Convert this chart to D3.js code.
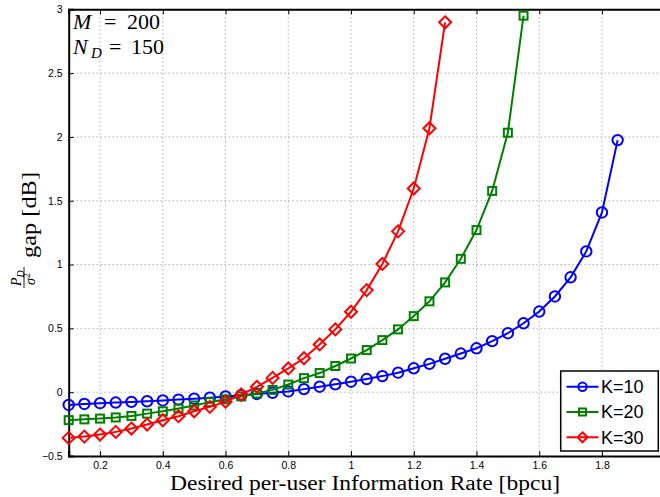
<!DOCTYPE html>
<html>
<head>
<meta charset="utf-8">
<script src="https://cdn.jsdelivr.net/npm/d3@7"></script>
<style>
  html, body { margin: 0; padding: 0; background: #fff; }
  svg { display: block; }
</style>
</head>
<body>
<svg id="chart" width="660" height="497"></svg>
<script>
// Desired per-user information rate (bpcu) for each curve
const rateK10 = d3.range(0, 36).map(i => +(0.1 + 0.05 * i).toFixed(2));
const rateK20 = d3.range(0, 30).map(i => +(0.1 + 0.05 * i).toFixed(2));
const rateK30 = d3.range(0, 25).map(i => +(0.1 + 0.05 * i).toFixed(2));

// P_D / sigma^2 gap in dB
const gapK10 = [-0.100, -0.092, -0.086, -0.081, -0.076, -0.071, -0.065, -0.058, -0.051, -0.043,
                -0.033, -0.024, -0.014, -0.005, 0.006, 0.024, 0.043, 0.062, 0.082, 0.103,
                0.126, 0.153, 0.187, 0.222, 0.262, 0.303, 0.344, 0.400, 0.462, 0.540,
                0.632, 0.750, 0.900, 1.103, 1.408, 1.975];
const gapK20 = [-0.219, -0.213, -0.207, -0.198, -0.186, -0.168, -0.150, -0.128, -0.104, -0.078,
                -0.056, -0.033, -0.010, 0.018, 0.060, 0.110, 0.150, 0.205, 0.264, 0.330,
                0.408, 0.492, 0.596, 0.712, 0.860, 1.045, 1.270, 1.577, 2.033, 2.950];
const gapK30 = [-0.358, -0.348, -0.332, -0.311, -0.285, -0.253, -0.220, -0.188, -0.150, -0.115,
                -0.074, -0.018, 0.042, 0.112, 0.186, 0.266, 0.374, 0.492, 0.630, 0.800,
                1.005, 1.260, 1.596, 2.068, 2.898];

const seriesNames = ["K=10", "K=20", "K=30"];
const xTicks = [0.2, 0.4, 0.6, 0.8, 1.0, 1.2, 1.4, 1.6, 1.8, 2.0];
const yTicks = [-0.5, 0, 0.5, 1, 1.5, 2, 2.5, 3];

const series = [
  { name: seriesNames[0], x: rateK10, y: gapK10, color: "#0000ff", marker: "circle" },
  { name: seriesNames[1], x: rateK20, y: gapK20, color: "#008000", marker: "square" },
  { name: seriesNames[2], x: rateK30, y: gapK30, color: "#ff0000", marker: "diamond" }
];

const svg = d3.select("#chart");
const plotL = 68.7, plotR = 664.7, plotT = 9.3, plotB = 456;

const x = d3.scaleLinear().domain([0.1, 2.0]).range([plotL, plotR]);
const y = d3.scaleLinear().domain([-0.5, 3]).range([plotB, plotT]);

// dotted grid
const grid = svg.append("g").attr("stroke", "#8a8a8a").attr("stroke-width", 1)
  .attr("stroke-dasharray", "1,3").attr("fill", "none");
xTicks.forEach(t => grid.append("line")
  .attr("x1", x(t)).attr("x2", x(t)).attr("y1", plotT).attr("y2", plotB));
yTicks.filter(t => t > -0.5 && t < 3).forEach(t => grid.append("line")
  .attr("x1", plotL).attr("x2", plotR).attr("y1", y(t)).attr("y2", y(t)));

// axes with inward ticks
const fmtY = d => (d === 0 ? "0" : d3.format("~g")(d).replace("-", "\u2212"));
const fmtX = d => (d === 1 ? "1" : d3.format(".1f")(d));

const xAxis = svg.append("g").attr("transform", `translate(0,${plotB})`)
  .call(d3.axisBottom(x).tickValues(xTicks).tickSize(-5).tickPadding(6).tickFormat(fmtX));
const yAxis = svg.append("g").attr("transform", `translate(${plotL},0)`)
  .call(d3.axisLeft(y).tickValues(yTicks).tickSize(-5).tickPadding(6).tickFormat(fmtY));
const xTop = svg.append("g").attr("transform", `translate(0,${plotT})`)
  .call(d3.axisTop(x).tickValues(xTicks).tickSize(-5).tickFormat(""));

[xAxis, yAxis, xTop].forEach(a => {
  a.select(".domain").attr("stroke", "#000").attr("stroke-width", 2);
  a.selectAll(".tick line").attr("stroke", "#000").attr("stroke-width", 1);
  a.selectAll(".tick text").attr("fill", "#000")
    .attr("font-family", "'Liberation Sans', Arial, sans-serif").attr("font-size", 10.5);
});
xAxis.selectAll(".tick text").filter(d => d >= 2).remove();

// markers
function drawMarker(g, type, cx, cy, s, color) {
  if (type === "circle") {
    g.append("circle").attr("cx", cx).attr("cy", cy).attr("r", s)
      .attr("fill", "none").attr("stroke", color).attr("stroke-width", 2);
  } else if (type === "square") {
    g.append("rect").attr("x", cx - s).attr("y", cy - s).attr("width", 2 * s).attr("height", 2 * s)
      .attr("fill", "none").attr("stroke", color).attr("stroke-width", 2);
  } else {
    g.append("path").attr("d", `M${cx},${cy - s}L${cx + s},${cy}L${cx},${cy + s}L${cx - s},${cy}Z`)
      .attr("fill", "none").attr("stroke", color).attr("stroke-width", 2);
  }
}
const markerSize = { circle: 5.2, square: 4, diamond: 6 };

const plot = svg.append("g");
const line = d3.line().x(d => x(d[0])).y(d => y(d[1]));
series.forEach(s => {
  const pts = s.x.map((v, i) => [v, s.y[i]]);
  plot.append("path").datum(pts).attr("d", line)
    .attr("fill", "none").attr("stroke", s.color).attr("stroke-width", 2);
  const mg = plot.append("g");
  pts.forEach(p => drawMarker(mg, s.marker, x(p[0]), y(p[1]), markerSize[s.marker], s.color));
});

// parameter annotation (math-style spacing around "=")
const ann = svg.append("g").attr("font-family", "'Liberation Serif', serif").attr("font-size", 22).attr("fill", "#000");
const t1 = ann.append("text").attr("y", 29);
t1.append("tspan").attr("x", 73).attr("font-style", "italic").text("M");
t1.append("tspan").attr("x", 104).text("=");
t1.append("tspan").attr("x", 127).text("200");
const t2 = ann.append("text").attr("y", 54);
t2.append("tspan").attr("x", 73).attr("font-style", "italic").text("N");
t2.append("tspan").attr("x", 91).attr("font-style", "italic").attr("font-size", 15).attr("dy", 4).text("D");
t2.append("tspan").attr("x", 109).attr("dy", -4).text("=");
t2.append("tspan").attr("x", 131).text("150");

// x label
svg.append("text").attr("x", 365).attr("y", 490).attr("text-anchor", "middle")
  .attr("font-family", "'Liberation Serif', serif").attr("font-size", 20)
  .attr("textLength", 390).attr("lengthAdjust", "spacingAndGlyphs")
  .text("Desired per-user Information Rate [bpcu]");

// y label: fraction P_D / sigma^2 followed by "gap [dB]"
const yl = svg.append("g").attr("transform", "translate(36,288) rotate(-90)")
  .attr("font-family", "'Liberation Serif', serif").attr("fill", "#000");
const num = yl.append("text").attr("x", 2).attr("y", -15).attr("font-size", 14);
num.append("tspan").attr("font-style", "italic").text("P");
num.append("tspan").attr("font-style", "italic").attr("font-size", 10).attr("dy", 2.5).text("D");
yl.append("line").attr("x1", 0).attr("x2", 21).attr("y1", -12).attr("y2", -12)
  .attr("stroke", "#000").attr("stroke-width", 0.9);
const den = yl.append("text").attr("x", 3).attr("y", -1).attr("font-size", 14);
den.append("tspan").attr("font-style", "italic").text("σ");
den.append("tspan").attr("font-size", 10).attr("dy", -5).text("2");
yl.append("text").attr("x", 30).attr("y", 0).attr("font-size", 22)
  .attr("textLength", 86).attr("lengthAdjust", "spacingAndGlyphs").text("gap [dB]");

// legend
const lg = svg.append("g");
lg.append("rect").attr("x", 560.7).attr("y", 371).attr("width", 97.6).attr("height", 80)
  .attr("fill", "#fff").attr("stroke", "#000").attr("stroke-width", 1.5);
const legendSize = { circle: 4.2, square: 3.5, diamond: 5 };
series.forEach((s, i) => {
  const cy = 386.7 + i * 25.3;
  lg.append("line").attr("x1", 566.5).attr("x2", 598.5).attr("y1", cy).attr("y2", cy)
    .attr("stroke", s.color).attr("stroke-width", 2);
  drawMarker(lg, s.marker, 582.5, cy, legendSize[s.marker], s.color);
  lg.append("text").attr("x", 601).attr("y", cy + 6.3)
    .attr("font-family", "'Liberation Sans', Arial, sans-serif").attr("font-size", 18)
    .text(s.name);
});
</script>
</body>
</html>
